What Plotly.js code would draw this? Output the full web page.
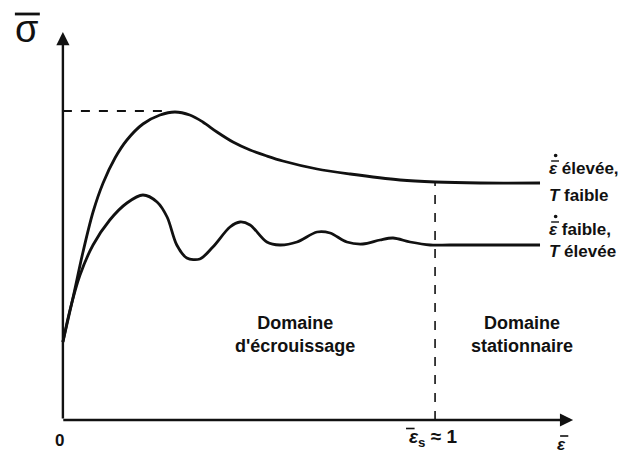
<!DOCTYPE html>
<html><head><meta charset="utf-8">
<script src="https://cdn.plot.ly/plotly-3.0.1.min.js"></script>
<style>html,body{margin:0;padding:0;background:#fff}</style>
</head><body><div id="chart" style="width:639px;height:461px"></div>
<script>
// strain (normalised, eps_s = 1) and flow stress (arbitrary units)
const strainHigh = [0, 0.027, 0.054, 0.081, 0.108, 0.140, 0.172, 0.215, 0.261, 0.301, 0.341, 0.376, 0.414, 0.457, 0.503, 0.548, 0.591, 0.683, 0.772, 0.906, 1.0, 1.121, 1.282];
const stressHigh = [0.78, 1.22, 1.68, 2.08, 2.37, 2.62, 2.80, 2.96, 3.05, 3.08, 3.05, 2.98, 2.88, 2.78, 2.70, 2.64, 2.59, 2.51, 2.46, 2.40, 2.38, 2.37, 2.37];
const strainLow = [0, 0.019, 0.046, 0.081, 0.126, 0.172, 0.215, 0.253, 0.280, 0.306, 0.333, 0.368, 0.403, 0.449, 0.476, 0.503, 0.548, 0.583, 0.629, 0.683, 0.718, 0.763, 0.806, 0.852, 0.887, 0.933, 0.987, 1.040, 1.282];
const stressLow = [0.78, 1.10, 1.45, 1.75, 2.00, 2.17, 2.25, 2.18, 2.03, 1.75, 1.62, 1.61, 1.73, 1.93, 1.98, 1.95, 1.78, 1.75, 1.78, 1.88, 1.87, 1.78, 1.76, 1.80, 1.82, 1.78, 1.75, 1.75, 1.75];
const peakStress = 3.09;
const peakStrainDash = 0.274;
const steadyStrain = 1.0;
const steadyStress = 2.38;
const axisTopY = 3.88;
const axisEndX = 1.371;
const labelsHigh = ["<i>ε</i> élevée,", "<i>T</i> faible"];
const labelsLow = ["<i>ε</i> faible,", "<i>T</i> élevée"];
const domainLabels = ["Domaine<br>d'écrouissage", "Domaine<br>stationnaire"];

const F = "Liberation Sans, Arial, sans-serif";
const C = "#111";
const line = {color: C, width: 2.8, shape: "spline", smoothing: 0.9};
const traces = [
  {x: strainHigh, y: stressHigh, mode: "lines", line: line, hoverinfo: "skip"},
  {x: strainLow, y: stressLow, mode: "lines", line: line, hoverinfo: "skip"}
];
function txt(x, y, t, size, extra) {
  return Object.assign({x: x, y: y, xref: "x", yref: "y", text: t, showarrow: false, font: {family: F, size: size, color: C}}, extra || {});
}
const ann = [
  {x: 0, y: axisTopY, ax: 0, ay: 0, axref: "x", ayref: "y", xref: "x", yref: "y", showarrow: true, arrowhead: 2, arrowsize: 1.1, arrowwidth: 2.4, arrowcolor: C, text: ""},
  {x: axisEndX, y: 0, ax: -0.003, ay: 0, axref: "x", ayref: "y", xref: "x", yref: "y", showarrow: true, arrowhead: 2, arrowsize: 1.1, arrowwidth: 2.4, arrowcolor: C, text: ""},
  txt(-0.097, 3.91, "σ", 38),
  txt(-0.01, -0.2, "<b>0</b>", 17),
  txt(0.995, -0.18, "<b><i>ε</i><sub>s</sub> ≈ 1</b>", 19),
  txt(1.341, -0.24, "<b><i>ε</i></b>", 17),
  txt(1.302, 2.52, "<b>" + labelsHigh[0] + "</b>", 17, {xanchor: "left"}),
  txt(1.302, 2.25, "<b>" + labelsHigh[1] + "</b>", 17, {xanchor: "left"}),
  txt(1.302, 1.91, "<b>" + labelsLow[0] + "</b>", 17, {xanchor: "left"}),
  txt(1.302, 1.69, "<b>" + labelsLow[1] + "</b>", 17, {xanchor: "left"}),
  txt(0.624, 0.86, "<b>" + domainLabels[0] + "</b>", 18),
  txt(1.234, 0.86, "<b>" + domainLabels[1] + "</b>", 18)
];
function seg(x0, y0, x1, y1, w, dash) {
  return {type: "line", xref: "x", yref: "y", x0: x0, y0: y0, x1: x1, y1: y1, line: {color: C, width: w, dash: dash || "solid"}};
}
function dot(x, y) {
  return {type: "circle", xref: "x", yref: "y", x0: x - 0.005, y0: y - 0.017, x1: x + 0.005, y1: y + 0.017, fillcolor: C, line: {width: 0}};
}
const shapes = [
  seg(0, peakStress, peakStrainDash, peakStress, 1.8, "dash"),
  seg(steadyStrain, 0, steadyStrain, steadyStress, 1.6, "dash"),
  seg(-0.129, 4.06, -0.062, 4.06, 2.8),
  seg(0.922, -0.085, 0.945, -0.085, 1.6),
  seg(1.336, -0.16, 1.358, -0.16, 1.6),
  seg(1.312, 2.59, 1.333, 2.59, 1.4), dot(1.324, 2.645),
  seg(1.312, 1.98, 1.333, 1.98, 1.4), dot(1.324, 2.035)
];
const layout = {
  width: 639, height: 461,
  margin: {l: 0, r: 0, t: 0, b: 0},
  paper_bgcolor: "#fff", plot_bgcolor: "#fff",
  showlegend: false,
  xaxis: {range: [-0.169, 1.548], visible: false, fixedrange: true},
  yaxis: {range: [-0.41, 4.20], visible: false, fixedrange: true},
  annotations: ann, shapes: shapes
};
Plotly.newPlot("chart", traces, layout, {staticPlot: true});
</script></body></html>
